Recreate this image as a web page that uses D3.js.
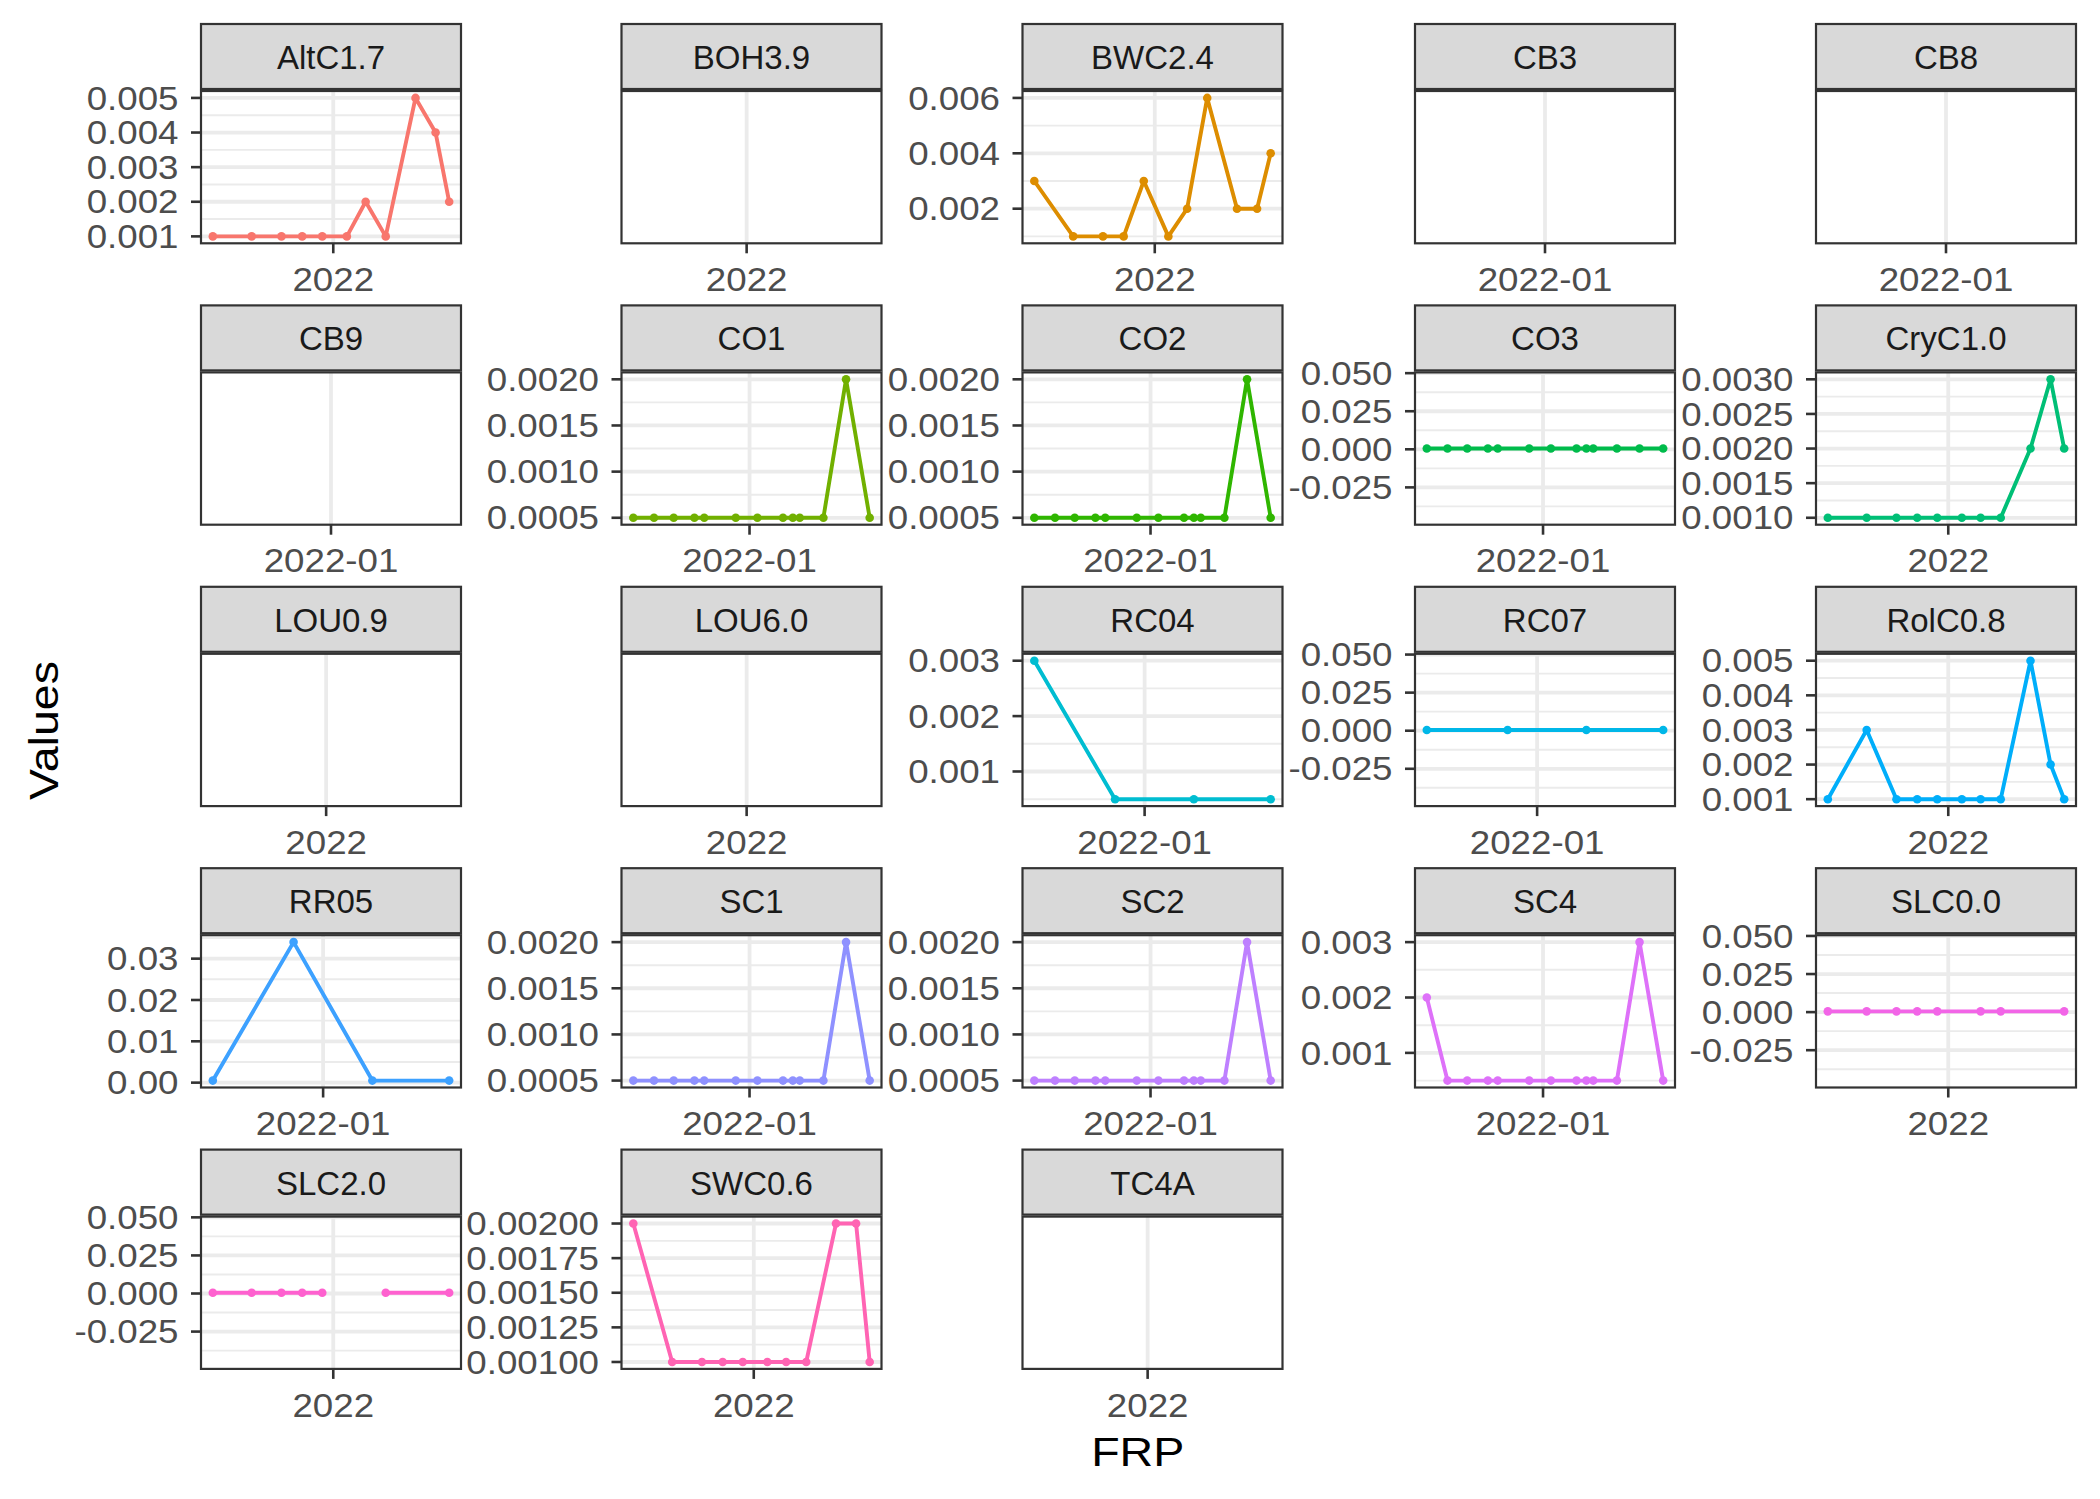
<!DOCTYPE html>
<html>
<head>
<meta charset="utf-8">
<script src="https://cdn.jsdelivr.net/npm/d3@7"></script>
<style>
  body { margin: 0; background: #fff; }
  svg { display: block; }
  text { font-family: "Liberation Sans", Arial, Helvetica, sans-serif; }
</style>
</head>
<body>
<svg id="chart" width="2100" height="1499"></svg>
<script>
// ---------------- DATA ----------------
const stations = ["AltC1.7","BOH3.9","BWC2.4","CB3","CB8","CB9","CO1","CO2","CO3","CryC1.0",
  "LOU0.9","LOU6.0","RC04","RC07","RolC0.8","RR05","SC1","SC2","SC4","SLC0.0","SLC2.0","SWC0.6","TC4A"];

const xTickDate = "2022-01-01";
const xTickLabels = ["2022","2022","2022","2022-01","2022-01","2022-01","2022-01","2022-01","2022-01","2022",
  "2022","2022","2022-01","2022-01","2022","2022-01","2022-01","2022-01","2022-01","2022","2022","2022","2022"];

const datesA = ["2021-06-29","2021-08-28","2021-10-13","2021-11-14","2021-12-15","2022-01-22",
  "2022-02-20","2022-03-23","2022-05-08","2022-06-08","2022-06-29"];
const datesB = ["2021-09-05","2021-09-26","2021-10-16","2021-11-06","2021-11-16","2021-12-18",
  "2022-01-09","2022-02-04","2022-02-14","2022-02-21","2022-03-17","2022-04-09","2022-05-03"];
const datesC = ["2021-09-11","2021-12-02","2022-02-20","2022-05-09"];
const datesSLC00 = ["2021-06-29","2021-08-28","2021-10-13","2021-11-14","2021-12-15",
  "2022-02-20","2022-03-23","2022-06-29"];
const datesSLC20 = ["2021-06-29","2021-08-28","2021-10-13","2021-11-14","2021-12-15","2022-01-22",
  "2022-02-20","2022-03-23","2022-06-29"];
const datesEmptyYear = ["2021-07-10","2022-07-10"];
const datesEmptyMonth = ["2021-09-03","2022-05-01"];

const valAltC17 = [0.001,0.001,0.001,0.001,0.001,0.001,0.002,0.001,0.005,0.004,0.002];
const valBOH39 = [null,null];
const valBWC24 = [0.003,0.001,0.001,0.001,0.003,0.001,0.002,0.006,0.002,0.002,0.004];
const valCB3 = [null,null];
const valCB8 = [null,null];
const valCB9 = [null,null];
const valCO1 = [0.0005,0.0005,0.0005,0.0005,0.0005,0.0005,0.0005,0.0005,0.0005,0.0005,0.0005,0.002,0.0005];
const valCO2 = [0.0005,0.0005,0.0005,0.0005,0.0005,0.0005,0.0005,0.0005,0.0005,0.0005,0.0005,0.002,0.0005];
const valCO3 = [0.0005,0.0005,0.0005,0.0005,0.0005,0.0005,0.0005,0.0005,0.0005,0.0005,0.0005,0.0005,0.0005];
const valCryC10 = [0.001,0.001,0.001,0.001,0.001,0.001,0.001,0.001,0.002,0.003,0.002];
const valLOU09 = [null,null];
const valLOU60 = [null,null];
const valRC04 = [0.003,0.0005,0.0005,0.0005];
const valRC07 = [0.0005,0.0005,0.0005,0.0005];
const valRolC08 = [0.001,0.003,0.001,0.001,0.001,0.001,0.001,0.001,0.005,0.002,0.001];
const valRR05 = [0.0005,0.034,0.0005,0.0005];
const valSC1 = [0.0005,0.0005,0.0005,0.0005,0.0005,0.0005,0.0005,0.0005,0.0005,0.0005,0.0005,0.002,0.0005];
const valSC2 = [0.0005,0.0005,0.0005,0.0005,0.0005,0.0005,0.0005,0.0005,0.0005,0.0005,0.0005,0.002,0.0005];
const valSC4 = [0.002,0.0005,0.0005,0.0005,0.0005,0.0005,0.0005,0.0005,0.0005,0.0005,0.0005,0.003,0.0005];
const valSLC00 = [0.0005,0.0005,0.0005,0.0005,0.0005,0.0005,0.0005,0.0005];
const valSLC20 = [0.0005,0.0005,0.0005,0.0005,0.0005,null,null,0.0005,0.0005];
const valSWC06 = [0.002,0.001,0.001,0.001,0.001,0.001,0.001,0.001,0.002,0.002,0.001];
const valTC4A = [null,null];

const stationDates = [datesA, datesEmptyYear, datesA, datesEmptyMonth, datesEmptyMonth, datesEmptyMonth,
  datesB, datesB, datesB, datesA, datesEmptyYear, datesEmptyYear, datesC, datesC, datesA, datesC,
  datesB, datesB, datesB, datesSLC00, datesSLC20, datesA, datesEmptyYear];
const stationValues = [valAltC17, valBOH39, valBWC24, valCB3, valCB8, valCB9, valCO1, valCO2, valCO3,
  valCryC10, valLOU09, valLOU60, valRC04, valRC07, valRolC08, valRR05, valSC1, valSC2, valSC4,
  valSLC00, valSLC20, valSWC06, valTC4A];

const xTitle = "FRP";
const yTitle = "Values";

// ---------------- HELPERS ----------------
// R's hcl() (polar LUV) -> sRGB hex, as used by ggplot's hue palette
function hclR(h, c, l) {
  const hr = h * Math.PI / 180;
  const U = c * Math.cos(hr), V = c * Math.sin(hr);
  const Xn = 95.047, Yn = 100, Zn = 108.883;
  const denom = Xn + 15 * Yn + 3 * Zn;
  const un = 4 * Xn / denom, vn = 9 * Yn / denom;
  const Y = l > 8 ? Yn * Math.pow((l + 16) / 116, 3) : Yn * l / 903.3;
  const u = U / (13 * l) + un, v = V / (13 * l) + vn;
  const X = 9 * Y * u / (4 * v);
  const Z = Y * (12 - 3 * u - 20 * v) / (4 * v);
  const x = X / 100, y = Y / 100, z = Z / 100;
  let r = 3.240479 * x - 1.537150 * y - 0.498535 * z;
  let g = -0.969256 * x + 1.875992 * y + 0.041556 * z;
  let b = 0.055648 * x - 0.204043 * y + 1.057311 * z;
  const gam = t => t <= 0.0031308 ? 12.92 * t : 1.055 * Math.pow(t, 1 / 2.4) - 0.055;
  const cl = t => Math.max(0, Math.min(1, t));
  return d3.rgb(cl(gam(r)) * 255, cl(gam(g)) * 255, cl(gam(b)) * 255).formatHex();
}

// labeling::extended (Wilkinson) as used by ggplot/scales
function extended(dmin, dmax, m) {
  const Q = [1, 5, 2, 2.5, 4, 3], w = [0.25, 0.2, 0.5, 0.05];
  const n = Q.length, eps = 2.220446e-16 * 100;
  if (dmax - dmin < eps) return [dmin];
  const mod = (a, b) => ((a % b) + b) % b;
  const simplicity = (i, j, lmin, lmax, lstep) => {
    const r = mod(lmin, lstep);
    const v = ((r < eps || lstep - r < eps) && lmin <= 0 && lmax >= 0) ? 1 : 0;
    return 1 - i / (n - 1) - j + v;
  };
  const simplicityMax = (i, j) => 1 - i / (n - 1) - j + 1;
  const range = dmax - dmin;
  const coverage = (lmin, lmax) => 1 - 0.5 * (Math.pow(dmax - lmax, 2) + Math.pow(dmin - lmin, 2)) / Math.pow(0.1 * range, 2);
  const coverageMax = span => {
    if (span > range) { const half = (span - range) / 2; return 1 - 0.5 * (2 * half * half) / Math.pow(0.1 * range, 2); }
    return 1;
  };
  const density = (k, lmin, lmax) => {
    const r = (k - 1) / (lmax - lmin);
    const rt = (m - 1) / (Math.max(lmax, dmax) - Math.min(dmin, lmin));
    return 2 - Math.max(r / rt, rt / r);
  };
  const densityMax = k => k >= m ? 2 - (k - 1) / (m - 1) : 1;
  let best = null, bestScore = -2;
  let j = 1;
  outer:
  while (j < 200) {
    for (let qi = 0; qi < n; qi++) {
      const q = Q[qi];
      const sm = simplicityMax(qi, j);
      if (w[0] * sm + w[1] + w[2] + w[3] < bestScore) break outer;
      let k = 2;
      while (k < 200) {
        const dm = densityMax(k);
        if (w[0] * sm + w[1] + w[2] * dm + w[3] < bestScore) break;
        const delta = range / (k + 1) / j / q;
        let z = Math.ceil(Math.log10(delta));
        while (z < 50) {
          const step = j * q * Math.pow(10, z);
          const cm = coverageMax(step * (k - 1));
          if (w[0] * sm + w[1] * cm + w[2] * dm + w[3] < bestScore) break;
          const minStart = Math.floor(dmax / step) * j - (k - 1) * j;
          const maxStart = Math.ceil(dmin / step) * j;
          if (minStart > maxStart) { z++; continue; }
          for (let start = minStart; start <= maxStart; start++) {
            const lmin = start * (step / j), lmax = lmin + step * (k - 1), lstep = step;
            const s = simplicity(qi, j, lmin, lmax, lstep);
            const c = coverage(lmin, lmax);
            const g = density(k, lmin, lmax);
            const score = w[0] * s + w[1] * c + w[2] * g + w[3];
            if (score > bestScore) { bestScore = score; best = { lmin, lmax, lstep }; }
          }
          z++;
        }
        k++;
      }
    }
    j++;
  }
  const out = [];
  const nn = Math.floor((best.lmax - best.lmin) / best.lstep + 1e-10);
  for (let i = 0; i <= nn; i++) out.push(best.lmin + i * best.lstep);
  return out;
}

function minorBreaks(b, lo, hi) {
  if (b.length < 2) return [];
  const bd = b[1] - b[0];
  const bb = b.slice();
  if (lo < bb[0]) bb.unshift(bb[0] - bd);
  if (hi > bb[bb.length - 1]) bb.push(bb[bb.length - 1] + bd);
  const out = [];
  for (let k = 0; k < bb.length - 1; k++) out.push(bb[k], (bb[k] + bb[k + 1]) / 2);
  out.push(bb[bb.length - 1]);
  return out.filter(v => v >= lo && v <= hi);
}

function decimalsFor(b) {
  for (let d = 0; d <= 12; d++) {
    const s = b * Math.pow(10, d);
    if (Math.abs(s - Math.round(s)) < 1e-6) return d;
  }
  return 12;
}

// ---------------- LAYOUT ----------------
const W = 2100, H = 1499;
const colLeft = [201, 621.5, 1022.5, 1415, 1816];
const panelW = 260;
const row0 = 24, rowStep = 281.4, stripH = 66, panelOff = 67, panelH = 152.3;
const gridCol = "#EBEBEB", darkCol = "#333333", tickTextCol = "#4D4D4D";
const tickFont = 32.5, tickStretch = 1.13, stripFont = 33, titleFont = 40.5, titleStretch = 1.15;

const parse = d3.utcParse("%Y-%m-%d");
const tickDate = parse(xTickDate);
const colors = stations.map((s, i) => hclR(15 + 360 * i / stations.length, 100, 65));

const svg = d3.select("#chart");
svg.append("rect").attr("width", W).attr("height", H).attr("fill", "#fff");
const defs = svg.append("defs");

stations.forEach((name, i) => {
  const r = Math.floor(i / 5), c = i % 5;
  const x0 = colLeft[c], x1 = x0 + panelW;
  const sTop = row0 + r * rowStep;
  const pTop = sTop + panelOff, pBot = pTop + panelH;

  const dates = stationDates[i].map(parse);
  const vals = stationValues[i];
  const data = dates.map((d, k) => ({ d, v: vals[k] }));

  const [d0, d1] = d3.extent(dates);
  const span = d1 - d0;
  const x = d3.scaleUtc().domain([new Date(+d0 - 0.05 * span), new Date(+d1 + 0.05 * span)]).range([x0, x1]);

  const g = svg.append("g");
  g.append("rect").attr("x", x0).attr("y", pTop).attr("width", panelW).attr("height", panelH).attr("fill", "#fff");

  const valid = vals.filter(v => v != null);
  let y = null, majors = [], minors = [];
  if (valid.length) {
    let [lo, hi] = d3.extent(valid);
    if (hi - lo < 1e-12) { lo -= 0.05; hi += 0.05; }
    else { const e = 0.05 * (hi - lo); lo -= e; hi += e; }
    y = d3.scaleLinear().domain([lo, hi]).range([pBot, pTop]);
    const tol = 1e-10 * (hi - lo);
    const br = extended(lo, hi, 5).filter(b => b >= lo - tol && b <= hi + tol);
    majors = br;
    minors = minorBreaks(br, lo, hi).filter(mn => !br.some(b => Math.abs(b - mn) < tol * 10));
  }

  // minor grid
  g.selectAll(null).data(minors).join("line")
    .attr("x1", x0).attr("x2", x1).attr("y1", d => y(d)).attr("y2", d => y(d))
    .attr("stroke", gridCol).attr("stroke-width", 1.9);
  // major grid
  g.selectAll(null).data(majors).join("line")
    .attr("x1", x0).attr("x2", x1).attr("y1", d => y(d)).attr("y2", d => y(d))
    .attr("stroke", gridCol).attr("stroke-width", 3.8);
  g.append("line").attr("x1", x(tickDate)).attr("x2", x(tickDate)).attr("y1", pTop).attr("y2", pBot)
    .attr("stroke", gridCol).attr("stroke-width", 3.8);

  // data
  if (y) {
    const clipId = "clip" + i;
    defs.append("clipPath").attr("id", clipId).append("rect")
      .attr("x", x0).attr("y", pTop).attr("width", panelW).attr("height", panelH);
    const dg = g.append("g").attr("clip-path", `url(#${clipId})`);
    const line = d3.line().defined(d => d.v != null).x(d => x(d.d)).y(d => y(d.v));
    dg.append("path").attr("d", line(data)).attr("fill", "none")
      .attr("stroke", colors[i]).attr("stroke-width", 3.9).attr("stroke-linejoin", "round");
    dg.selectAll(null).data(data.filter(d => d.v != null)).join("circle")
      .attr("cx", d => x(d.d)).attr("cy", d => y(d.v)).attr("r", 4.3).attr("fill", colors[i]);
  }

  // panel border
  g.append("rect").attr("x", x0).attr("y", pTop).attr("width", panelW).attr("height", panelH)
    .attr("fill", "none").attr("stroke", darkCol).attr("stroke-width", 2.2);

  // strip
  g.append("rect").attr("x", x0).attr("y", sTop).attr("width", panelW).attr("height", stripH - 1)
    .attr("fill", "#D9D9D9").attr("stroke", darkCol).attr("stroke-width", 2.2);
  g.append("text").attr("x", (x0 + x1) / 2).attr("y", sTop + 45).attr("text-anchor", "middle")
    .attr("font-size", stripFont).attr("fill", "#1A1A1A").text(name);

  // x axis tick + label
  const tx = x(tickDate);
  g.append("line").attr("x1", tx).attr("x2", tx).attr("y1", pBot).attr("y2", pBot + 10)
    .attr("stroke", darkCol).attr("stroke-width", 2.6);
  g.append("text").attr("transform", `translate(${tx},${pBot + 47.7}) scale(${tickStretch},1)`)
    .attr("text-anchor", "middle")
    .attr("font-size", tickFont).attr("fill", tickTextCol).text(xTickLabels[i]);

  // y axis ticks + labels
  if (y) {
    const dec = d3.max(majors, decimalsFor);
    const tol = 1e-9 * (y.domain()[1] - y.domain()[0]);
    g.selectAll(null).data(majors).join("line")
      .attr("x1", x0 - 10).attr("x2", x0).attr("y1", d => y(d)).attr("y2", d => y(d))
      .attr("stroke", darkCol).attr("stroke-width", 2.6);
    g.selectAll(null).data(majors).join("text")
      .attr("transform", d => `translate(${x0 - 22.5},${y(d) + 0.36 * tickFont}) scale(${tickStretch},1)`)
      .attr("text-anchor", "end").attr("font-size", tickFont).attr("fill", tickTextCol)
      .text(d => (Math.abs(d) < tol ? 0 : d).toFixed(dec));
  }
});

// axis titles
svg.append("text").attr("transform", `translate(1137.7,1466) scale(${titleStretch},1)`).attr("text-anchor", "middle")
  .attr("font-size", titleFont).attr("fill", "#000").text(xTitle);
svg.append("text").attr("transform", `translate(57.5,730.5) rotate(-90) scale(${titleStretch},1)`).attr("text-anchor", "middle")
  .attr("font-size", titleFont).attr("fill", "#000").text(yTitle);
</script>
</body>
</html>
